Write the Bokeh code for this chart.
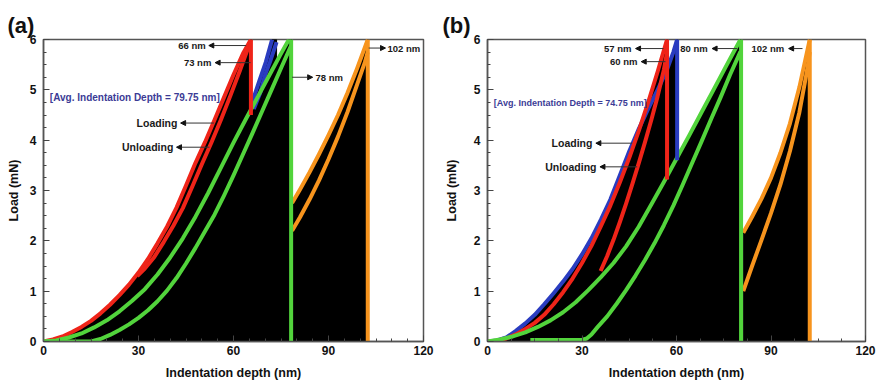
from bokeh.plotting import figure
from bokeh.layouts import row
from bokeh.models import Range1d, SingleIntervalTicker, Label, Arrow, NormalHead
from bokeh.embed import file_html
from bokeh.resources import INLINE

# ---------------- panel (a) data ----------------
A_RED_LOAD_H = [0, 3, 6, 9, 12, 15, 18, 21, 24, 27, 30, 33, 36, 39, 42, 45, 48, 51, 54, 57, 60, 63, 65.5]
A_RED_LOAD_P = [0, 0.04, 0.1, 0.19, 0.29, 0.41, 0.56, 0.73, 0.92, 1.13, 1.37, 1.64, 1.95, 2.28, 2.66,
                3.1, 3.55, 3.96, 4.4, 4.85, 5.3, 5.72, 6.0]
A_RED_UNLOAD_H = [29.6, 32, 35, 38, 41, 44, 47, 50, 53, 56, 59, 62, 65]
A_RED_UNLOAD_P = [1.3, 1.45, 1.68, 1.98, 2.3, 2.65, 3.08, 3.52, 3.95, 4.4, 4.88, 5.38, 5.9]

A_BLUE_LOAD_H = [65.9, 68, 70.2, 72.2]
A_BLUE_LOAD_P = [4.75, 5.15, 5.55, 6.0]
A_BLUE_UNLOAD_H = [66.4, 68.5, 70, 71.5, 73.6]
A_BLUE_UNLOAD_P = [4.62, 4.95, 5.3, 5.55, 5.95]

A_GREEN_LOAD_H = [0, 4, 8, 12, 16, 20, 24, 28, 32, 36, 40, 44, 48, 52, 56, 60, 64, 68, 72, 75, 77.5, 78.2]
A_GREEN_LOAD_P = [0, 0.02, 0.08, 0.16, 0.28, 0.42, 0.6, 0.81, 1.04, 1.33, 1.67, 2.05, 2.48, 2.95,
                  3.45, 3.95, 4.43, 4.9, 5.37, 5.72, 6.0, 6.0]
A_GREEN_UNLOAD_H = [0, 15, 18, 21, 24, 27, 30, 33, 36, 39, 42, 45, 48, 51, 54, 57, 60, 63, 66, 69, 72, 75, 78.2]
A_GREEN_UNLOAD_P = [0, 0, 0.05, 0.13, 0.23, 0.34, 0.47, 0.62, 0.8, 1.01, 1.26, 1.55, 1.86, 2.19, 2.52,
                    2.9, 3.3, 3.72, 4.14, 4.57, 5.0, 5.43, 5.88]

A_ORANGE_LOAD_H = [78.5, 81, 84, 87, 90, 93, 96, 99, 102.4]
A_ORANGE_LOAD_P = [2.75, 3.02, 3.36, 3.72, 4.1, 4.5, 4.94, 5.42, 6.0]
A_ORANGE_UNLOAD_H = [78.5, 81, 84, 87, 90, 93, 96, 99, 101.5, 102.4]
A_ORANGE_UNLOAD_P = [2.2, 2.47, 2.82, 3.2, 3.62, 4.07, 4.56, 5.1, 5.55, 5.75]

A_DROP_H = [65.5, 78.2, 102.4]
A_DROP_TOP = [6.0, 6.0, 6.0]
A_DROP_BOTTOM = [4.5, 0.0, 0.0]

A_DEPTH_LABELS = ["66 nm", "73 nm", "78 nm", "102 nm"]
A_AVG_TEXT = "[Avg. Indentation Depth = 79.75 nm]"

# ---------------- panel (b) data ----------------
B_BLUE_LOAD_H = [0, 3, 6, 9, 12, 15, 18, 21, 24, 27, 30, 33, 36, 39, 42, 45, 48, 51, 54, 57, 59, 60.2]
B_BLUE_LOAD_P = [0, 0.02, 0.08, 0.21, 0.36, 0.53, 0.74, 0.96, 1.19, 1.44, 1.73, 2.05, 2.42, 2.82, 3.3,
                 3.78, 4.22, 4.62, 5.0, 5.4, 5.75, 6.0]

B_RED_LOAD_H = [0, 3, 6, 9, 12, 15, 18, 21, 24, 27, 30, 33, 36, 39, 42, 45, 48, 51, 54, 57]
B_RED_LOAD_P = [0, 0.015, 0.06, 0.14, 0.25, 0.37, 0.53, 0.74, 0.98, 1.25, 1.56, 1.9, 2.29, 2.7, 3.16,
                3.65, 4.18, 4.75, 5.36, 6.0]
B_RED_UNLOAD_H = [35.9, 38, 40, 42, 44, 46, 48, 50, 52, 54, 56, 57]
B_RED_UNLOAD_P = [1.4, 1.7, 2.02, 2.37, 2.74, 3.13, 3.54, 3.96, 4.4, 4.87, 5.4, 5.75]

B_GREEN_LOAD_H = [0, 4, 8, 12, 16, 20, 24, 28, 32, 36, 40, 44, 48, 52, 56, 60, 64, 68, 72, 76, 80.3]
B_GREEN_LOAD_P = [0, 0.04, 0.1, 0.18, 0.29, 0.42, 0.58, 0.78, 1.02, 1.28, 1.56, 1.89, 2.28, 2.72, 3.17,
                  3.63, 4.09, 4.56, 5.03, 5.5, 6.0]
B_GREEN_UNLOAD_H = [13.6, 30, 31.5, 33, 35, 38, 41, 44, 47, 50, 53, 56, 59, 62, 65, 68, 71, 74, 77, 80.3]
B_GREEN_UNLOAD_P = [0.03, 0.03, 0.06, 0.14, 0.29, 0.5, 0.75, 1.02, 1.31, 1.62, 1.95, 2.31, 2.7, 3.12,
                    3.55, 3.98, 4.42, 4.85, 5.3, 5.76]

B_ORANGE_LOAD_H = [81.2, 84, 87, 90, 93, 96, 99, 102.3]
B_ORANGE_LOAD_P = [2.16, 2.48, 2.84, 3.25, 3.75, 4.33, 5.05, 6.0]
B_ORANGE_UNLOAD_H = [81.2, 84, 87, 90, 93, 96, 99, 101.5, 102.3]
B_ORANGE_UNLOAD_P = [1.0, 1.5, 2.02, 2.55, 3.12, 3.78, 4.55, 5.4, 5.75]

B_DROP_H = [57.0, 60.2, 80.5, 102.3]
B_DROP_TOP = [6.0, 6.0, 6.0, 6.0]
B_DROP_BOTTOM = [3.22, 3.6, 0.0, 0.0]

B_DEPTH_LABELS = ["57 nm", "60 nm", "80 nm", "102 nm"]
B_AVG_TEXT = "[Avg. Indentation Depth = 74.75 nm]"

X_TITLE = "Indentation depth (nm)"
Y_TITLE = "Load (mN)"

RED = "#ef2419"
BLUE = "#2a3cc0"
GREEN = "#52d43c"
ORANGE = "#f7941d"
FONT = "Liberation Sans"
LW = 4


def make_panel(tag, tag_offset, tests, drops, drop_colors, notes, avg, minor_x,
               width, bl, br, bt, label_standoff):
    H = 385
    frame_h = 341 - bt
    p = figure(width=width, height=H, x_range=Range1d(0, 120), y_range=Range1d(0, 6),
               output_backend="svg", toolbar_location=None,
               min_border_left=bl, min_border_right=br, min_border_top=bt,
               min_border_bottom=H - bt - frame_h)
    p.title.text = tag
    p.title.align = "left"
    p.title.offset = tag_offset
    p.title.standoff = 3
    p.title.text_font = FONT
    p.title.text_font_size = "22px"
    p.title.text_font_style = "bold"
    p.title.text_color = "#111111"

    p.xgrid.visible = False
    p.ygrid.visible = False
    p.outline_line_color = "#555555"
    p.outline_line_width = 1.5
    p.background_fill_color = "white"

    p.xaxis.ticker = SingleIntervalTicker(interval=30, num_minor_ticks=minor_x)
    p.yaxis.ticker = SingleIntervalTicker(interval=1, num_minor_ticks=4)
    for ax in (p.xaxis[0], p.yaxis[0]):
        ax.major_tick_in = 6
        ax.major_tick_out = 0
        ax.minor_tick_in = 3
        ax.minor_tick_out = 0
        ax.axis_line_color = "#555555"
        ax.axis_line_width = 1.5
        ax.major_tick_line_color = "#444444"
        ax.minor_tick_line_color = "#444444"
        ax.major_label_text_font = FONT
        ax.major_label_text_font_size = "12px"
        ax.major_label_text_font_style = "bold"
        ax.major_label_text_color = "#111111"
        ax.axis_label_text_font = FONT
        ax.axis_label_text_font_size = "12.5px"
        ax.axis_label_text_font_style = "bold"
        ax.axis_label_text_color = "#111111"
    p.xaxis.axis_label = X_TITLE
    p.yaxis.axis_label = Y_TITLE
    p.xaxis.major_label_standoff = 4
    p.xaxis.axis_label_standoff = 8
    p.yaxis.major_label_standoff = 7
    p.yaxis.axis_label_standoff = label_standoff

    # black filled area under every loading curve
    xs, ys = [], []
    for lh, lp, uh, up, col in tests:
        xe = max(lh[-1], uh[-1] if uh else lh[-1])
        xs.append(list(lh) + [xe, xe, lh[0]])
        ys.append(list(lp) + [lp[-1], 0, 0])
    p.patches(xs, ys, fill_color="black", line_color="black", line_width=1)

    for lh, lp, uh, up, col in tests:
        p.line(lh, lp, line_color=col, line_width=LW, line_join="round")
        if uh:
            p.line(uh, up, line_color=col, line_width=LW, line_join="round")
    dh, dt, db = drops
    p.segment(x0=dh, y0=dt, x1=dh, y1=db, line_color=drop_colors, line_width=LW)

    head = dict(size=5, fill_color="#111111", line_color="#111111", line_width=1)
    for text, tx, ty, x0, x1, align, fs in notes:
        p.add_layout(Arrow(end=NormalHead(**head), x_start=x0, y_start=ty, x_end=x1, y_end=ty,
                           line_color="#333333", line_width=1))
        p.add_layout(Label(x=tx, y=ty, text=text, text_font=FONT, text_font_size=fs,
                           text_font_style="bold", text_align=align, text_baseline="middle",
                           text_color="#1a1a1a"))
    atext, ax_, ay_, afs = avg
    p.add_layout(Label(x=ax_, y=ay_, text=atext, text_font=FONT, text_font_size=afs,
                       text_font_style="bold", text_align="left", text_baseline="middle",
                       text_color="#3b3b96"))
    return p


tests_a = [
    (A_BLUE_LOAD_H, A_BLUE_LOAD_P, A_BLUE_UNLOAD_H, A_BLUE_UNLOAD_P, BLUE),
    (A_RED_LOAD_H, A_RED_LOAD_P, A_RED_UNLOAD_H, A_RED_UNLOAD_P, RED),
    (A_GREEN_LOAD_H, A_GREEN_LOAD_P, A_GREEN_UNLOAD_H, A_GREEN_UNLOAD_P, GREEN),
    (A_ORANGE_LOAD_H, A_ORANGE_LOAD_P, A_ORANGE_UNLOAD_H, A_ORANGE_UNLOAD_P, ORANGE),
]
notes_a = [
    (A_DEPTH_LABELS[0], 51.2, 5.88, 64.0, 52.2, "right", "9.5px"),
    (A_DEPTH_LABELS[1], 53.0, 5.54, 65.4, 54.2, "right", "9.5px"),
    (A_DEPTH_LABELS[2], 85.9, 5.25, 78.5, 85.0, "left", "9.5px"),
    (A_DEPTH_LABELS[3], 108.6, 5.83, 102.7, 108.0, "left", "9.5px"),
    ("Loading", 42.3, 4.34, 53.8, 43.3, "right", "10.5px"),
    ("Unloading", 41.0, 3.86, 52.4, 42.0, "right", "10.5px"),
]
pa = make_panel("(a)", -36, tests_a, (A_DROP_H, A_DROP_TOP, A_DROP_BOTTOM),
                [RED, GREEN, ORANGE], notes_a, (A_AVG_TEXT, 2.0, 4.85, "10px"), 6,
                440, 43, 17, 39, 6)

tests_b = [
    (B_BLUE_LOAD_H, B_BLUE_LOAD_P, [], [], BLUE),
    (B_RED_LOAD_H, B_RED_LOAD_P, B_RED_UNLOAD_H, B_RED_UNLOAD_P, RED),
    (B_GREEN_LOAD_H, B_GREEN_LOAD_P, B_GREEN_UNLOAD_H, B_GREEN_UNLOAD_P, GREEN),
    (B_ORANGE_LOAD_H, B_ORANGE_LOAD_P, B_ORANGE_UNLOAD_H, B_ORANGE_UNLOAD_P, ORANGE),
]
notes_b = [
    (B_DEPTH_LABELS[0], 45.7, 5.82, 55.9, 47.0, "right", "9.5px"),
    (B_DEPTH_LABELS[1], 47.6, 5.56, 56.5, 48.8, "right", "9.5px"),
    (B_DEPTH_LABELS[2], 69.9, 5.82, 79.3, 71.3, "right", "9.5px"),
    (B_DEPTH_LABELS[3], 94.2, 5.82, 100.0, 95.6, "right", "9.5px"),
    ("Loading", 33.3, 3.94, 45.9, 34.4, "right", "10.5px"),
    ("Unloading", 34.6, 3.47, 47.5, 35.7, "right", "10.5px"),
]
pb = make_panel("(b)", -45, tests_b, (B_DROP_H, B_DROP_TOP, B_DROP_BOTTOM),
                [RED, BLUE, GREEN, ORANGE], notes_b, (B_AVG_TEXT, 2.0, 4.74, "9px"), 4,
                437, 47, 12, 38, 12)

layout = row(pa, pb)
open("out.html", "w").write(file_html(layout, INLINE))
